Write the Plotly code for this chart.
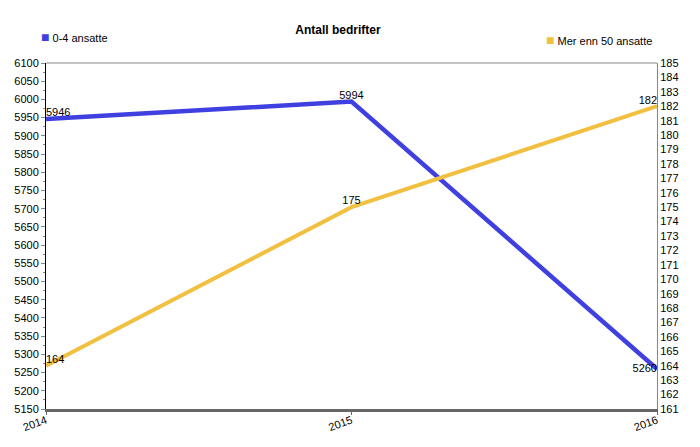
import plotly.graph_objects as go

years = ["2014", "2015", "2016"]
small_firms = [5946, 5994, 5260]
large_firms = [164, 175, 182]
small_name = "0-4 ansatte"
large_name = "Mer enn 50 ansatte"
title = "Antall bedrifter"

blue = "#4040E0"
orange = "#F2C040"

fig = go.Figure()
fig.add_trace(go.Scatter(
    x=years, y=small_firms, mode="lines+text", name=small_name,
    line=dict(color=blue, width=4.5),
    text=[str(v) for v in small_firms],
    textposition=["top right", "top center", "middle left"],
    textfont=dict(family="Arial, Liberation Sans", size=11, color="black"),
    cliponaxis=False, showlegend=False,
))
fig.add_trace(go.Scatter(
    x=years, y=large_firms, mode="lines+text", name=large_name, yaxis="y2",
    line=dict(color=orange, width=4),
    text=[str(v) for v in large_firms],
    textposition=["top right", "top center", "top left"],
    textfont=dict(family="Arial, Liberation Sans", size=11, color="black"),
    cliponaxis=False, showlegend=False,
))

font = dict(family="Arial, Liberation Sans", size=11, color="black")
W, H = 684, 431
fig.update_layout(
    width=W, height=H,
    margin=dict(l=38, r=35, t=55, b=30, autoexpand=False),
    paper_bgcolor="white", plot_bgcolor="white",
    font=font, showlegend=False,
    title=dict(text="<b>" + title + "</b>", xref="container", x=330 / W, xanchor="center",
               yref="container", y=1 - 22 / H, yanchor="middle",
               font=dict(family="Arial, Liberation Sans", size=12, color="black")),
    xaxis=dict(type="category", range=[0, 2], showgrid=False, tickangle=-20,
               showline=True, linecolor="#666666", linewidth=3, mirror=False,
               ticks="outside", ticklen=3, tickcolor="#666666", tickfont=font,
               ticklabelstandoff=-5,
               zeroline=False, automargin=False),
    yaxis=dict(range=[5150, 6100], dtick=50, showgrid=False, showline=True,
               linecolor="black", linewidth=1, ticks="outside", ticklen=4,
               tickcolor="#888888", tickfont=font, zeroline=False, automargin=False,
               minor=dict(ticks="outside", ticklen=2, tickcolor="#888888", dtick=25)),
    yaxis2=dict(range=[161, 185], dtick=1, overlaying="y", side="right",
                showgrid=False, showline=True, linecolor="#888888", linewidth=1,
                ticks="", tickfont=font, zeroline=False, automargin=False),
    annotations=[
        dict(text="<span style='color:%s;font-size:14px'>■</span> %s" % (blue, small_name),
             xref="paper", yref="paper", x=-0.012, y=1 + 26 / 346, xanchor="left",
             yanchor="middle", showarrow=False, font=font),
        dict(text="<span style='color:%s;font-size:14px'>■</span> %s" % (orange, large_name),
             xref="paper", yref="paper", x=0.815, y=1 + 23 / 346, xanchor="left",
             yanchor="middle", showarrow=False, font=font),
    ],
    shapes=[dict(type="line", xref="paper", yref="paper", x0=0, x1=1, y0=1, y1=1,
                 line=dict(color="#888888", width=1))],
)

fig.write_html("out.html")
